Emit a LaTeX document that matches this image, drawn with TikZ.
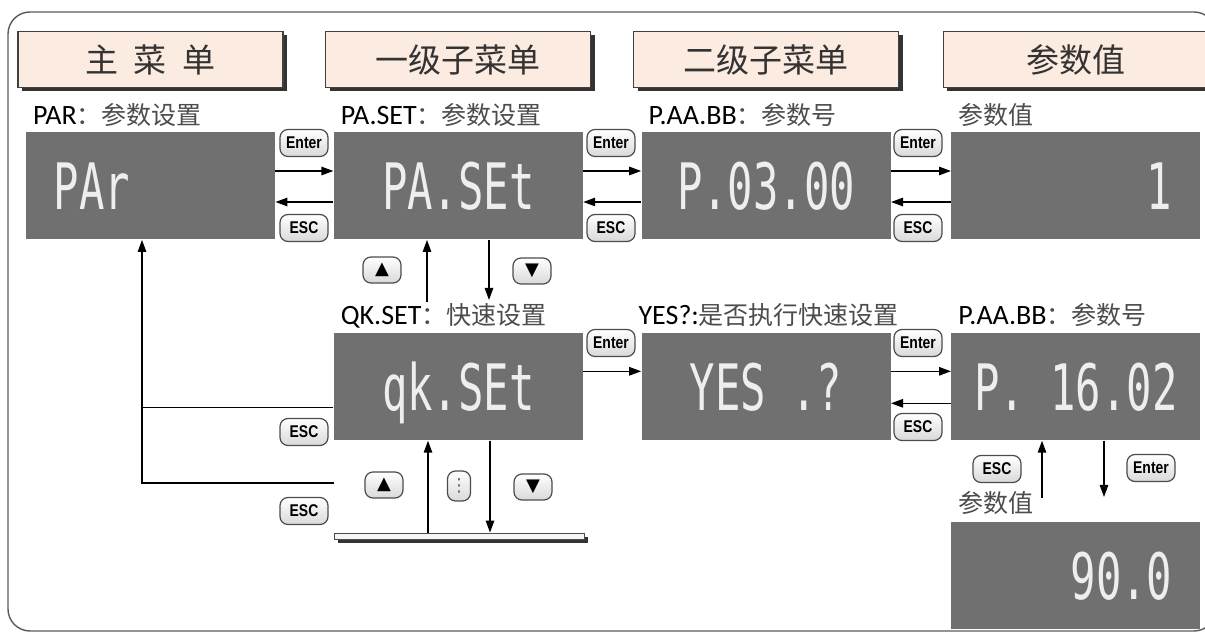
\documentclass[tikz,border=0pt]{standalone}
\usepackage{fontspec}
\setmainfont{Carlito}
\newfontfamily\cjk{Noto Sans CJK SC}
\newfontfamily\segfont{DejaVu Sans Mono}[FakeStretch=0.66]
\newfontfamily\keyfont{Liberation Sans}[FakeStretch=0.82]
\newfontfamily\symfont{DejaVu Sans}
\usetikzlibrary{arrows.meta,positioning,shadows}

\definecolor{headfill}{RGB}{252,235,224}
\definecolor{panelgray}{RGB}{112,112,112}
\definecolor{segwhite}{RGB}{238,238,238}
\definecolor{framegray}{RGB}{90,90,90}
\newcommand{\zh}[1]{{\cjk\fontsize{12.5}{15}\selectfont\color{black!70}#1}}

\begin{document}
\begin{tikzpicture}[
		x=0.5pt,y=0.5pt,
		>={Triangle[length=6pt,width=4.2pt]},
		node distance=29pt,
		panel/.style={rectangle,fill=panelgray,minimum width=124.5pt,minimum height=53.5pt,inner sep=0pt},
		head/.style={rectangle,draw=black!75,line width=0.6pt,fill=headfill,minimum width=132.5pt,minimum height=28pt,inner sep=0pt,
			font=\cjk\fontsize{16.5}{18}\selectfont,text=black!80,
			drop shadow={shadow xshift=2pt,shadow yshift=-2pt,fill=black!80,opacity=1}},
		seg/.style={text=segwhite,font=\segfont\fontsize{32}{32}\selectfont,inner sep=0pt},
		lbl/.style={inner sep=0pt,font=\fontsize{14}{16}\selectfont},
		keybtn/.style={rectangle,rounded corners=4pt,draw=black!70,line width=0.6pt,top color=white,bottom color=black!15,
			minimum width=24pt,minimum height=13.5pt,inner sep=0pt,font=\keyfont\bfseries\fontsize{8.5}{9}\selectfont},
		arrowkey/.style={keybtn,minimum width=19pt,minimum height=13pt,font=\symfont\fontsize{9}{9}\selectfont},
		link/.style={line width=0.75pt}
	]
	\useasboundingbox (0,0) rectangle (1205,632);
	\draw[framegray,line width=0.7pt,rounded corners=11pt] (8,1) rectangle (1216,620);

	% displays
	\node[panel] (dPar) at (150.5,446) {};
	\node[panel,right=of dPar] (dPaset) {};
	\node[panel,right=of dPaset] (dPnum) {};
	\node[panel,right=30pt of dPnum] (dVal) {};
	\node[panel,below=46.5pt of dPaset] (dQk) {};
	\node[panel,right=of dQk] (dYes) {};
	\node[panel,right=30pt of dYes] (dPnum2) {};
	\node[panel,below=40.5pt of dPnum2] (dVal2) {};

	% column headers
	\node[head,above=22pt of dPar] (hMain) {\spaceskip=8pt 主 菜 单};
	\node[head,above=22pt of dPaset] (hSub1) {一级子菜单};
	\node[head,above=22pt of dPnum] (hSub2) {二级子菜单};
	\node[head,above=22pt of dVal] (hVal) {参数值};

	% display contents
	\node[seg,anchor=base west] (tPar) at ([xshift=14pt,yshift=-12pt]dPar.west) {PAr};
	\node[seg,anchor=base] (tPaset) at ([yshift=-12pt]dPaset.center) {PA.SEt};
	\node[seg,anchor=base] (tPnum) at ([yshift=-12pt]dPnum.center) {P.03.00};
	\node[seg,anchor=base east] (tVal) at ([xshift=-14pt,yshift=-12pt]dVal.east) {1};
	\node[seg,anchor=base] (tQk) at ([yshift=-12pt]dQk.center) {qk.SEt};
	\node[seg,anchor=base] (tYes) at ([yshift=-12pt]dYes.center) {YES .?};
	\node[seg,anchor=base] (tPnum2) at ([yshift=-12pt]dPnum2.center) {P. 16.02};
	\node[seg,anchor=base east] (tVal2) at ([xshift=-14pt,yshift=-12pt]dVal2.east) {90.0};

	% captions
	\node[lbl,anchor=base west] (lPar) at ([xshift=3.5pt,yshift=4pt]dPar.north west) {PAR\zh{：参数设置}};
	\node[lbl,anchor=base west] (lPaset) at ([xshift=3.5pt,yshift=4pt]dPaset.north west) {PA.SET\zh{：参数设置}};
	\node[lbl,anchor=base west] (lPnum) at ([xshift=3.5pt,yshift=4pt]dPnum.north west) {P.AA.BB\zh{：参数号}};
	\node[lbl,anchor=base west] (lVal) at ([xshift=3.5pt,yshift=4pt]dVal.north west) {\zh{参数值}};
	\node[lbl,anchor=base west] (lQk) at ([xshift=3.5pt,yshift=4pt]dQk.north west) {QK.SET\zh{：快速设置}};
	\node[lbl,anchor=base west] (lYes) at ([xshift=-1.5pt,yshift=4pt]dYes.north west) {YES?:\zh{是否执行快速设置}};
	\node[lbl,anchor=base west] (lPnum2) at ([xshift=3.5pt,yshift=4pt]dPnum2.north west) {P.AA.BB\zh{：参数号}};
	\node[lbl,anchor=base west] (lVal2) at ([xshift=3.5pt,yshift=4.5pt]dVal2.north west) {\zh{参数值}};

	% keys
	\node[keybtn] (kEnterA) at (304,489) {Enter};
	\node[keybtn] (kEscA) at (304,404) {ESC};
	\node[keybtn] (kEnterB) at (611,489) {Enter};
	\node[keybtn] (kEscB) at (611,404) {ESC};
	\node[keybtn] (kEnterC) at (918,489) {Enter};
	\node[keybtn] (kEscC) at (918,404) {ESC};
	\node[arrowkey] (kUpA) at (382,362) {▲};
	\node[arrowkey] (kDownA) at (532,361) {▼};
	\node[keybtn] (kEnterD) at (611,289) {Enter};
	\node[keybtn] (kEnterE) at (918,289) {Enter};
	\node[keybtn] (kEscE) at (918,205) {ESC};
	\node[keybtn] (kEscF) at (997,163) {ESC};
	\node[keybtn] (kEnterF) at (1151,164) {Enter};
	\node[keybtn] (kEscG) at (304,200) {ESC};
	\node[keybtn] (kEscH) at (304,121) {ESC};
	\node[arrowkey] (kUpB) at (384,147) {▲};
	\node[arrowkey,minimum width=11.5pt,minimum height=15pt] (kDots) at (459,146) {\textcolor{black!60}{⋮}};
	\node[arrowkey] (kDownB) at (533,145) {▼};

	% parameter list bar
	\node[rectangle,draw=black!70,fill=black!4,minimum width=125pt,minimum height=3pt,inner sep=0pt,
		drop shadow={shadow xshift=2pt,shadow yshift=-2pt,fill=black!80,opacity=1}] (bar) at (459,96) {};

	% free ends
	\coordinate (cUpA) at (427,330);
	\coordinate (cDownA) at (489,332);
	\coordinate (cUpB) at (428,0);
	\coordinate (cDownB) at (490,0);
	\coordinate (cUpC) at (1042,134);
	\coordinate (cDownC) at (1104,135);
	\coordinate (cLoop) at (142,0);
	\coordinate (cEscIn) at (334,149);

	% top row
	\draw[link,->] ([yshift=7.5pt]dPar.east) -- ([yshift=7.5pt]dPaset.west);
	\draw[link,<-] ([yshift=-8pt]dPar.east) -- ([yshift=-8pt]dPaset.west);
	\draw[link,->] ([yshift=7.5pt]dPaset.east) -- ([yshift=7.5pt]dPnum.west);
	\draw[link,<-] ([yshift=-8pt]dPaset.east) -- ([yshift=-8pt]dPnum.west);
	\draw[link,->] ([yshift=7.5pt]dPnum.east) -- ([yshift=7.5pt]dVal.west);
	\draw[link,<-] ([yshift=-8pt]dPnum.east) -- ([yshift=-8pt]dVal.west);

	% between rows
	\draw[link,->] (cUpA) -- (cUpA |- dPaset.south);
	\draw[link,->] (cDownA |- dPaset.south) -- (cDownA);

	% second row
	\draw[link,->] ([yshift=7.75pt]dQk.east) -- ([yshift=7.75pt]dYes.west);
	\draw[link,->] ([yshift=7.75pt]dYes.east) -- ([yshift=7.75pt]dPnum2.west);
	\draw[link,<-] ([yshift=-8.25pt]dYes.east) -- ([yshift=-8.25pt]dPnum2.west);

	% list
	\draw[link,->] (bar.north -| cUpB) -- (dQk.south -| cUpB);
	\draw[link,->] (dQk.south -| cDownB) -- (bar.north -| cDownB);

	% value
	\draw[link,->] (cUpC) -- (cUpC |- dPnum2.south);
	\draw[link,->] (cDownC |- dPnum2.south) -- (cDownC);

	% back to main menu
	\draw[link,->] ([yshift=-10.25pt]dQk.west) -| (dPar.south -| cLoop);
	\draw[link] (cEscIn) -| ([yshift=-10.25pt]dQk.west -| cLoop);
\end{tikzpicture}
\end{document}
